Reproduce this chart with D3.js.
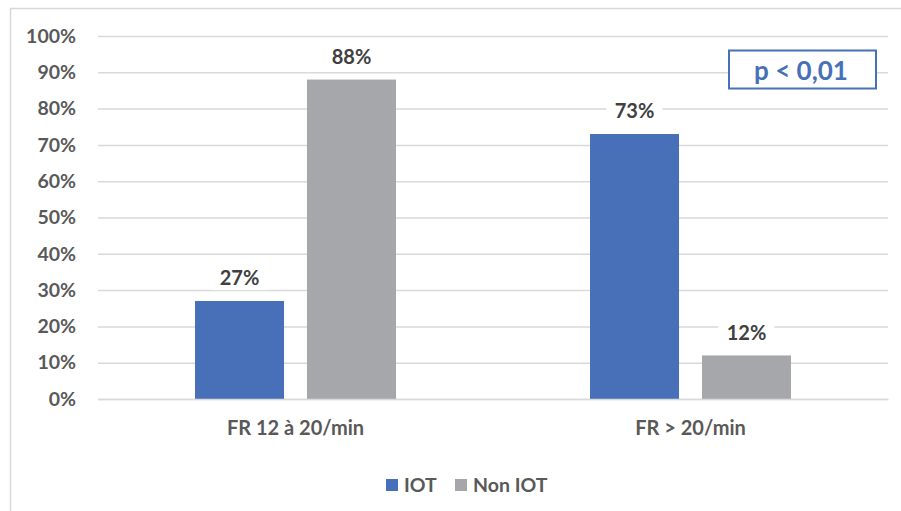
<!DOCTYPE html>
<html><head><meta charset="utf-8">
<script src="https://cdn.jsdelivr.net/npm/d3@7"></script>
<style>body{margin:0;background:#fff;}svg{display:block;font-family:Lato,"Open Sans",sans-serif;}</style>
</head><body><svg id="c" width="901" height="511"></svg>
<script>
const categories = ["FR 12 à 20/min", "FR > 20/min"];
const seriesNames = ["IOT", "Non IOT"];
const iotValues = [27, 73];
const nonIotValues = [88, 12];
const yTicks = [0,10,20,30,40,50,60,70,80,90,100];
const colors = ["#4870B8", "#A6A7AB"];
const pText = "p < 0,01";

(function(){
const svg = d3.select("#c");
// outer frame (left and top edges visible)
svg.append("path").attr("d","M10.5,511 L10.5,8.5 L901,8.5").attr("fill","none").attr("stroke","#d9d9d9").attr("stroke-width",1.5);

const mLeft = 98, mRight = 888, mTop = 36, mBottom = 399;
const y = d3.scaleLinear().domain([0,100]).range([mBottom, mTop]);
const x0 = d3.scaleBand().domain(categories).range([mLeft, mRight]).padding(0);
const bw = x0.bandwidth();
const x1 = d3.scaleBand().domain(seriesNames).range([bw*0.2456, bw*0.7544]).paddingInner(0.205).paddingOuter(0);

// grid
const yAxis = d3.axisLeft(y).tickValues(yTicks).tickFormat(d => d + "%").tickSize(-(mRight-mLeft)).tickPadding(22);
const ga = svg.append("g").attr("transform",`translate(${mLeft},0)`).call(yAxis);
ga.select(".domain").remove();
ga.selectAll(".tick line").attr("stroke","#d9d9d9").attr("stroke-width",1.5);
ga.selectAll(".tick text").attr("fill","#595959").attr("font-size",19.5).attr("font-weight",700).attr("font-family","Lato");

const data = categories.map((c,i) => ({cat:c, vals:[{s:seriesNames[0], v:iotValues[i]},{s:seriesNames[1], v:nonIotValues[i]}]}));

const groups = svg.append("g").selectAll("g").data(data).join("g").attr("transform", d => `translate(${x0(d.cat)},0)`);
groups.selectAll("rect").data(d => d.vals).join("rect")
  .attr("x", d => x1(d.s)).attr("width", x1.bandwidth())
  .attr("y", d => y(d.v)).attr("height", d => y(0) - y(d.v))
  .attr("fill", (d,i) => colors[i]);

// value labels with white background
const lab = groups.selectAll("g.lab").data(d => d.vals).join("g").attr("class","lab")
  .attr("transform", d => `translate(${x1(d.s) + x1.bandwidth()/2},${y(d.v) - 23})`);
lab.append("rect").attr("x",-28).attr("y",-12).attr("width",56).attr("height",24).attr("fill","#fff");
lab.append("text").attr("text-anchor","middle").attr("dy","0.36em").attr("font-size",20).attr("font-weight",700)
  .attr("fill","#404040").text(d => d.v + "%");

// x axis
const xAxis = d3.axisBottom(x0).tickSize(0).tickPadding(22);
const gx = svg.append("g").attr("transform",`translate(0,${mBottom})`).call(xAxis);
gx.select(".domain").attr("stroke","#d9d9d9").attr("stroke-width",1.5);
gx.selectAll(".tick text").attr("fill","#595959").attr("font-size",20).attr("font-weight",700).attr("font-family","Lato");

// legend
const legendX = [386, 455];
const lg = svg.append("g").selectAll("g").data(seriesNames).join("g").attr("transform",(d,i)=>`translate(${legendX[i]},479)`);
lg.append("rect").attr("width",12).attr("height",12).attr("fill",(d,i)=>colors[i]);
lg.append("text").attr("x",18).attr("y",6).attr("dy","0.36em").attr("font-size",19.5).attr("font-weight",700).attr("fill","#595959").text(d=>d);

// p-value box
const pb = svg.append("g");
pb.append("rect").attr("x",729).attr("y",50.5).attr("width",147).attr("height",38).attr("fill","#fff").attr("stroke","#4870B8").attr("stroke-width",2);
pb.append("text").attr("x",801).attr("y",71).attr("dy","0.36em").attr("text-anchor","middle").attr("font-size",26).attr("font-weight",700).attr("fill","#4870B8").text(pText);
})();
</script></body></html>
